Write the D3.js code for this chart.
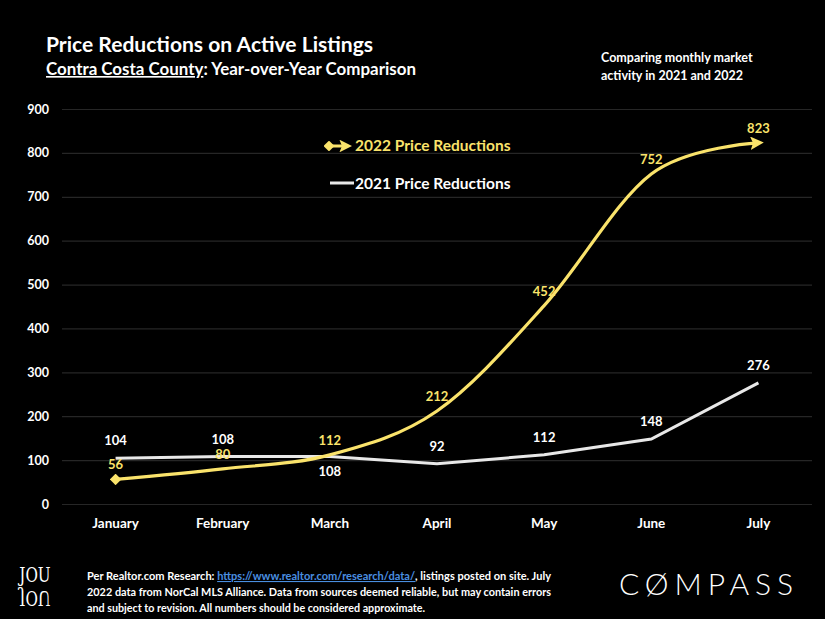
<!DOCTYPE html>
<html><head><meta charset="utf-8">
<script src="https://cdn.jsdelivr.net/npm/d3@7"></script>
<style>
html,body{margin:0;padding:0;background:#000;}
svg{display:block;font-family:Lato,"Open Sans",sans-serif;}
</style></head>
<body>
<svg id="c" width="825" height="619"></svg>
<script>
const months = ["January","February","March","April","May","June","July"];
const values2022 = [56, 80, 112, 212, 452, 752, 823];
const values2021 = [104, 108, 108, 92, 112, 148, 276];
const yTicks = [0,100,200,300,400,500,600,700,800,900];
const labelBelow2021 = [false,false,true,false,false,false,false];

const YEL = "#FAE36B", WHITE = "#E8E8E8";
const svg = d3.select("#c");
svg.append("rect").attr("width",825).attr("height",619).attr("fill","#000");

const x = d3.scaleBand().domain(months).range([62,812]);
const y = d3.scaleLinear().domain([0,900]).range([504,109]);
const cx = m => x(m) + x.bandwidth()/2;

// grid
const yAxis = d3.axisLeft(y).tickValues(yTicks).tickSize(-750).tickPadding(13);
const ga = svg.append("g").attr("transform","translate(62,0)").call(yAxis);
ga.select(".domain").remove();
ga.selectAll(".tick line").attr("stroke","#262626").attr("stroke-width",1.2);
ga.selectAll(".tick text").attr("fill","#fff").attr("font-size",12.5).attr("font-weight","bold").attr("font-family","Lato");

const xAxis = d3.axisBottom(x).tickSize(0).tickPadding(14);
const gx = svg.append("g").attr("transform","translate(0,504)").call(xAxis);
gx.select(".domain").remove();
gx.selectAll(".tick text").attr("fill","#fff").attr("font-size",13.5).attr("font-weight","bold").attr("font-family","Lato");

// markers
const defs = svg.append("defs");
defs.append("marker").attr("id","arrow").attr("viewBox","0 0 10 10").attr("refX",6).attr("refY",5)
  .attr("markerWidth",4.2).attr("markerHeight",4.2).attr("orient","auto")
  .append("path").attr("d","M0,0 L10,5 L0,10 L2,5 Z").attr("fill",YEL);
defs.append("marker").attr("id","diamond").attr("viewBox","0 0 10 10").attr("refX",5).attr("refY",5)
  .attr("markerWidth",3.6).attr("markerHeight",3.6).attr("orient","0")
  .append("path").attr("d","M5,0 L10,5 L5,10 L0,5 Z").attr("fill",YEL);

// 2021 line
const line21 = d3.line().x((d,i)=>cx(months[i])).y(d=>y(d));
svg.append("path").datum(values2021).attr("d",line21).attr("fill","none")
  .attr("stroke",WHITE).attr("stroke-width",3);

// 2022 line
const line22 = d3.line().x((d,i)=>cx(months[i])).y(d=>y(d)).curve(d3.curveCardinal.tension(0));
svg.append("path").datum(values2022).attr("d",line22).attr("fill","none")
  .attr("stroke",YEL).attr("stroke-width",3.2)
  .attr("marker-start","url(#diamond)").attr("marker-end","url(#arrow)");

// labels
svg.append("g").selectAll("text").data(values2021).join("text")
  .attr("x",(d,i)=>cx(months[i])).attr("y",(d,i)=> labelBelow2021[i] ? y(d)+19 : y(d)-13)
  .attr("text-anchor","middle").attr("fill","#fff").attr("font-size",13).attr("font-weight","bold")
  .text(d=>d);
svg.append("g").selectAll("text").data(values2022).join("text")
  .attr("x",(d,i)=>cx(months[i])).attr("y",(d,i)=> y(d)-10)
  .attr("text-anchor","middle").attr("fill",YEL).attr("font-size",13).attr("font-weight","bold")
  .text(d=>d);

// legend
const lg = svg.append("g");
lg.append("line").attr("x1",329).attr("x2",347).attr("y1",146).attr("y2",146).attr("stroke",YEL).attr("stroke-width",3)
  .attr("marker-start","url(#diamond)").attr("marker-end","url(#arrow)");
lg.append("text").attr("x",355).attr("y",151).attr("fill",YEL).attr("font-size",15.5).attr("font-weight","bold").text("2022 Price Reductions");
lg.append("line").attr("x1",330).attr("x2",354).attr("y1",183).attr("y2",183).attr("stroke",WHITE).attr("stroke-width",3);
lg.append("text").attr("x",355).attr("y",189).attr("fill","#fff").attr("font-size",15.5).attr("font-weight","bold").text("2021 Price Reductions");

// titles
svg.append("text").attr("x",46).attr("y",52).attr("fill","#fff").attr("font-size",21).attr("font-weight","bold")
  .attr("textLength",327).attr("lengthAdjust","spacingAndGlyphs").text("Price Reductions on Active Listings");
const st = svg.append("text").attr("x",46).attr("y",75).attr("fill","#fff").attr("font-size",16.5).attr("font-weight","bold")
  .attr("textLength",370).attr("lengthAdjust","spacingAndGlyphs");
st.append("tspan").attr("text-decoration","underline").text("Contra Costa County");
st.append("tspan").text(": Year-over-Year Comparison");

svg.append("text").attr("x",601).attr("y",62).attr("fill","#fff").attr("font-size",12.5).attr("font-weight","bold").text("Comparing monthly market");
svg.append("text").attr("x",601).attr("y",80).attr("fill","#fff").attr("font-size",12.5).attr("font-weight","bold").text("activity in 2021 and 2022");

// footer
const ft = svg.append("g").attr("font-size",10.8).attr("font-weight","bold").attr("fill","#fff");
const f1 = ft.append("text").attr("x",87).attr("y",580).attr("textLength",464).attr("lengthAdjust","spacingAndGlyphs");
f1.append("tspan").text("Per Realtor.com Research:  ");
f1.append("tspan").attr("fill","#4A8FE0").attr("text-decoration","underline").text("https://www.realtor.com/research/data/");
f1.append("tspan").text(", listings posted on site. July");
ft.append("text").attr("x",87).attr("y",596).attr("textLength",464).attr("lengthAdjust","spacingAndGlyphs")
  .text("2022 data from NorCal MLS Alliance. Data from sources deemed reliable, but may contain errors");
ft.append("text").attr("x",87).attr("y",612).attr("textLength",338).attr("lengthAdjust","spacingAndGlyphs")
  .text("and subject to revision. All numbers should be considered approximate.");

// 10U logo
const lgo = svg.append("g").attr("fill","#fff").attr("font-family","DejaVu Serif").attr("font-size",19);
lgo.append("text").attr("transform","translate(35,582) scale(0.8,1.05)").attr("text-anchor","middle").text("JOU");
lgo.append("text").attr("transform","translate(35,591) scale(0.8,-1.05)").attr("text-anchor","middle").text("JOU");

// COMPASS
svg.append("text").attr("x",706).attr("y",595).attr("text-anchor","middle").attr("fill","#fff")
  .attr("font-size",30).attr("font-family","Lato").attr("font-weight","300")
  .attr("textLength",174).attr("lengthAdjust","spacing")
  .text("CØMPASS");
</script>
</body></html>
